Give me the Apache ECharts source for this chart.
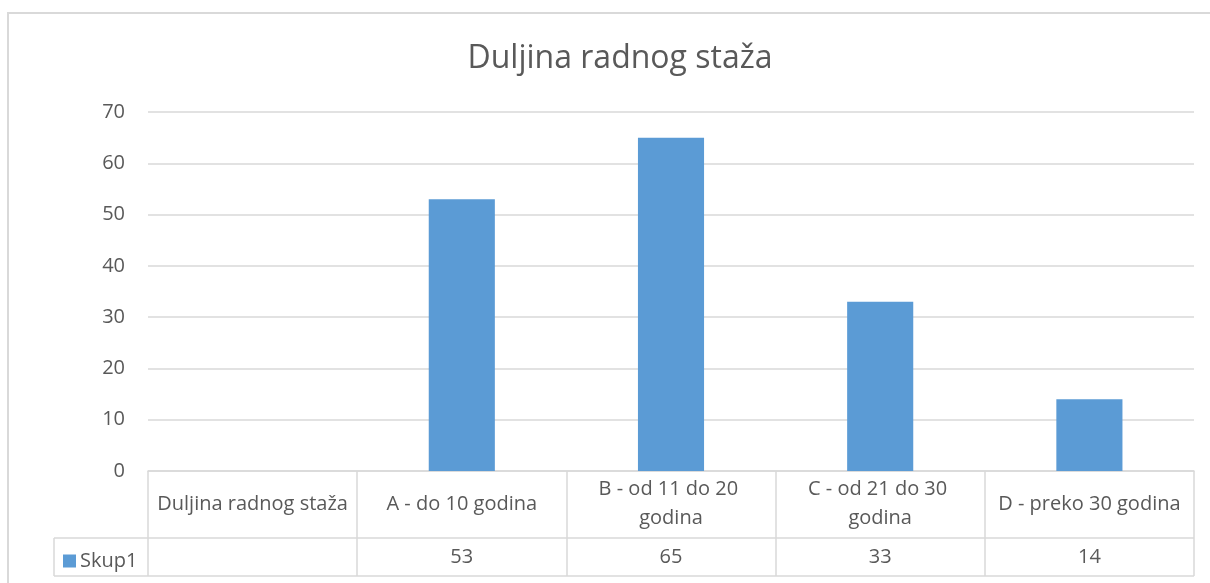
<!DOCTYPE html>
<html style="height: 100%">
<head>
<meta charset="utf-8">
<script src="https://cdn.jsdelivr.net/npm/echarts@6/dist/echarts.min.js"></script>
</head>
<body style="height: 100%; margin: 0; background: #fff">
<div id="container" style="width: 1210px; height: 583px"></div>
<script type="text/javascript">
// data
var titleText = 'Duljina radnog staža';
var categories = ['Duljina radnog staža', 'A - do 10 godina', 'B - od 11 do 20 godina', 'C - od 21 do 30 godina', 'D - preko 30 godina'];
var seriesName = 'Skup1';
var values = [null, 53, 65, 33, 14];
var yTicks = { min: 0, max: 70, interval: 10 };

var textColor = '#595959';
var lineColor = '#d9d9d9';
var font = 'Open Sans';

var chart = echarts.init(document.getElementById('container'));

var option = {
    animation: false,
    textStyle: { fontFamily: font },
    title: {
        text: titleText,
        left: 615,
        textAlign: 'center',
        top: 38,
        textStyle: { fontSize: 32, fontWeight: 'normal', color: textColor, fontFamily: font }
    },
    legend: {
        data: [seriesName],
        left: 58,
        top: 546,
        icon: 'rect',
        itemWidth: 13,
        itemHeight: 13,
        itemGap: 4,
        textStyle: { fontSize: 20, color: textColor, fontFamily: font, padding: [0, 0, 0, -1] }
    },
    grid: { left: 148, right: 16, top: 112, bottom: 112 },
    xAxis: [
        {
            type: 'category',
            data: categories,
            axisLine: { lineStyle: { color: lineColor, width: 1.5 } },
            axisTick: { show: true, length: 105, lineStyle: { color: lineColor, width: 1.5 } },
            axisLabel: {
                interval: 0,
                color: textColor,
                fontSize: 20,
                fontFamily: font,
                width: 207,
                overflow: 'break',
                lineHeight: 29,
                margin: 33,
                verticalAlign: 'middle'
            }
        },
        {
            type: 'category',
            position: 'bottom',
            data: values.map(function (v) { return v == null ? '' : String(v); }),
            axisLine: { show: false },
            axisTick: { show: false },
            axisLabel: {
                interval: 0,
                color: textColor,
                fontSize: 20,
                fontFamily: font,
                margin: 86,
                verticalAlign: 'middle'
            }
        }
    ],
    yAxis: {
        type: 'value',
        min: yTicks.min,
        max: yTicks.max,
        interval: yTicks.interval,
        axisLine: { show: false },
        axisTick: { show: false },
        axisLabel: { color: textColor, fontSize: 20, fontFamily: font, margin: 23 },
        splitLine: { lineStyle: { color: lineColor, width: 1.5 } }
    },
    series: [
        {
            name: seriesName,
            type: 'bar',
            xAxisIndex: 0,
            barWidth: '31.6%',
            itemStyle: { color: '#5b9bd5' },
            data: values
        }
    ],
    graphic: [
        // outer chart border
        { type: 'rect', shape: { x: 8, y: 13, width: 1220, height: 600 }, style: { fill: null, stroke: lineColor, lineWidth: 2 }, silent: true },
        // data table lines
        { type: 'line', shape: { x1: 54, y1: 538, x2: 1194, y2: 538 }, style: { stroke: lineColor, lineWidth: 1.5 }, silent: true },
        { type: 'line', shape: { x1: 54, y1: 576, x2: 1194, y2: 576 }, style: { stroke: lineColor, lineWidth: 1.5 }, silent: true },
        { type: 'line', shape: { x1: 54, y1: 538, x2: 54, y2: 576 }, style: { stroke: lineColor, lineWidth: 1.5 }, silent: true }
    ]
};

chart.setOption(option);
</script>
</body>
</html>
